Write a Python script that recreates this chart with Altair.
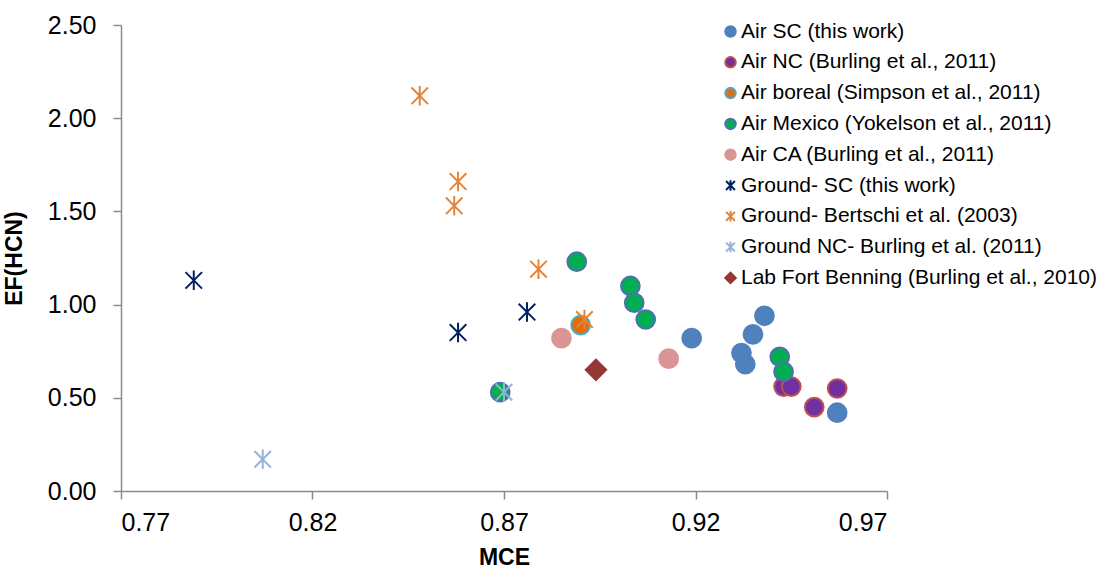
import altair as alt
import pandas as pd

# ---- data ----
series_names = [
    "Air SC (this work)",
    "Air NC (Burling et al., 2011)",
    "Air boreal (Simpson et al., 2011)",
    "Air Mexico (Yokelson et al., 2011)",
    "Air CA (Burling et al., 2011)",
    "Ground- SC (this work)",
    "Ground- Bertschi et al. (2003)",
    "Ground NC- Burling et al. (2011)",
    "Lab Fort Benning (Burling et al., 2010)",
]

air_sc_mce = [0.919, 0.938, 0.935, 0.932, 0.933, 0.957]
air_sc_ef = [0.82, 0.94, 0.84, 0.74, 0.68, 0.42]

air_nc_mce = [0.943, 0.945, 0.951, 0.957]
air_nc_ef = [0.56, 0.56, 0.45, 0.55]

air_boreal_mce = [0.890]
air_boreal_ef = [0.89]

air_mexico_mce = [0.889, 0.903, 0.904, 0.907, 0.942, 0.943, 0.869]
air_mexico_ef = [1.23, 1.10, 1.01, 0.92, 0.72, 0.64, 0.53]

air_ca_mce = [0.885, 0.913]
air_ca_ef = [0.82, 0.71]

ground_sc_mce = [0.789, 0.858, 0.876]
ground_sc_ef = [1.13, 0.85, 0.96]

bertschi_mce = [0.848, 0.858, 0.857, 0.879, 0.891]
bertschi_ef = [2.12, 1.66, 1.53, 1.19, 0.92]

ground_nc_mce = [0.807, 0.870]
ground_nc_ef = [0.17, 0.53]

lab_mce = [0.894]
lab_ef = [0.65]

x_ticks = [0.77, 0.82, 0.87, 0.92, 0.97]
y_ticks = [0.0, 0.5, 1.0, 1.5, 2.0, 2.5]

# ---- styles ----
fill_colors = ["#4F81BD", "#7030A0", "#E46C0A", "#00B050", "#D99694",
               "#002060", "#E3843A", "#95B3D7", "#953735"]
stroke_colors = ["#4F81BD", "#C0504D", "#4BACC6", "#4F6FB5", "#D99694",
                 "#002060", "#E3843A", "#95B3D7", "#953735"]
asterisk = "M-0.85,-0.85L0.85,0.85M-0.85,0.85L0.85,-0.85M0,-1L0,1"
shapes = ["circle"] * 5 + [asterisk] * 3 + ["diamond"]
sizes = [350, 350, 350, 350, 350, 380, 380, 380, 420]

groups = [
    (air_sc_mce, air_sc_ef), (air_nc_mce, air_nc_ef),
    (air_boreal_mce, air_boreal_ef), (air_mexico_mce, air_mexico_ef),
    (air_ca_mce, air_ca_ef), (ground_sc_mce, ground_sc_ef),
    (bertschi_mce, bertschi_ef), (ground_nc_mce, ground_nc_ef),
    (lab_mce, lab_ef),
]
rows = []
for i, (name, (xs, ys)) in enumerate(zip(series_names, groups)):
    for x, y in zip(xs, ys):
        rows.append({"series": name, "MCE": x, "EF": y, "order": i, "sz": sizes[i]})
df = pd.DataFrame(rows)

FONT = "Liberation Sans"
legend = alt.Legend(
    title=None, orient="none", legendX=599, legendY=-4,
    labelFontSize=21, labelFont=FONT, labelColor="#000000",
    symbolSize=110, symbolStrokeWidth=2, labelOffset=0, rowPadding=8.8,
    padding=0, labelLimit=500,
)

chart = alt.Chart(df).mark_point(filled=True, opacity=1, strokeWidth=2).encode(
    x=alt.X("MCE:Q", title="MCE",
            scale=alt.Scale(domain=[0.77, 0.97], nice=False, zero=False),
            axis=alt.Axis(values=x_ticks, format=".2f", labelPadding=11, titlePadding=11)),
    y=alt.Y("EF:Q", title="EF(HCN)",
            scale=alt.Scale(domain=[0, 2.5], nice=False),
            axis=alt.Axis(values=y_ticks, format=".2f", labelPadding=17, titlePadding=21)),
    fill=alt.Fill("series:N", sort=series_names,
                  scale=alt.Scale(domain=series_names, range=fill_colors), legend=legend),
    stroke=alt.Stroke("series:N", sort=series_names,
                      scale=alt.Scale(domain=series_names, range=stroke_colors), legend=legend),
    shape=alt.Shape("series:N", sort=series_names,
                    scale=alt.Scale(domain=series_names, range=shapes), legend=legend),
    size=alt.Size("sz:Q", scale=None, legend=None),
    order=alt.Order("order:Q"),
).properties(
    width=766, height=466,
    autosize=alt.AutoSizeParams(type="none"),
    padding={"left": 121, "top": 25, "right": 215, "bottom": 81},
    background="white",
).configure_view(stroke=None).configure_axis(
    grid=False, domainColor="#8C8C8C", tickColor="#8C8C8C",
    domainWidth=1.5, tickWidth=1.5, tickSize=8,
    labelFont=FONT, labelFontSize=25, labelColor="#000000",
    titleFont=FONT, titleFontSize=23, titleFontWeight="bold", titleColor="#000000",
)

chart.save("out.html", embed_options={"renderer": "svg", "actions": False})
